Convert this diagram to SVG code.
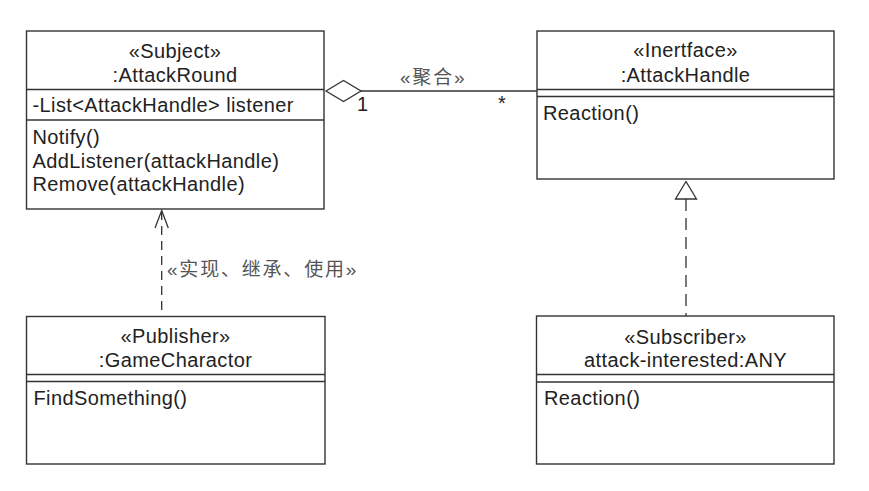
<svg xmlns="http://www.w3.org/2000/svg" width="869" height="491" viewBox="0 0 869 491">
<style>
.box{fill:#fff;stroke:#333;stroke-width:1.4}
.div{stroke:#333;stroke-width:1.3}
.t{font-family:"Liberation Sans",Arial,sans-serif;font-size:20px;fill:#222;letter-spacing:0.4px}
.c{text-anchor:middle}
.cn{font-family:"Liberation Sans","Noto Sans CJK SC",sans-serif;font-size:19px;fill:#555;letter-spacing:1.8px}
.ln{stroke:#333;stroke-width:1.3;fill:none}
</style>
<rect width="869" height="491" fill="#fff"/>
<g id="connectors">
  <line class="ln" x1="361" y1="91" x2="537" y2="91"/>
  <polygon points="326,91 343.5,80.5 361,91 343.5,101.5" fill="#fff" stroke="#333" stroke-width="1.3"/>
  <text class="cn" x="400" y="83.5">«聚合»</text>
  <text class="t" x="357" y="111" style="letter-spacing:0">1</text>
  <text class="t" x="502" y="110" text-anchor="middle" style="letter-spacing:0">*</text>
  <line class="ln" x1="161.7" y1="211" x2="161.7" y2="316.5" stroke-dasharray="9,6"/>
  <polyline class="ln" points="155,228 161.7,210.5 168.3,228"/>
  <text class="cn" x="167" y="275.5">«实现、继承、使用»</text>
  <line class="ln" x1="686" y1="199" x2="686" y2="316" stroke-dasharray="12,7"/>
  <polygon points="686,181.5 675.5,199 696.5,199" fill="#fff" stroke="#333" stroke-width="1.3"/>
</g>
<g id="attackRound">
  <rect class="box" x="26.5" y="31" width="297.5" height="178"/>
  <line class="div" x1="26.5" y1="89.5" x2="324" y2="89.5"/>
  <line class="div" x1="26.5" y1="120" x2="324" y2="120"/>
  <text class="t c" x="175" y="57.5">«Subject»</text>
  <text class="t c" x="175" y="81.5">:AttackRound</text>
  <text class="t" x="32.5" y="112">-List&lt;AttackHandle&gt; listener</text>
  <text class="t" x="32.5" y="144">Notify()</text>
  <text class="t" x="32.5" y="167.5">AddListener(attackHandle)</text>
  <text class="t" x="32.5" y="191">Remove(attackHandle)</text>
</g>
<g id="attackHandle">
  <rect class="box" x="537" y="31" width="297" height="148"/>
  <line class="div" x1="537" y1="89.5" x2="834" y2="89.5"/>
  <line class="div" x1="537" y1="96.5" x2="834" y2="96.5"/>
  <text class="t c" x="685.5" y="57">«Inertface»</text>
  <text class="t c" x="685.5" y="81.5">:AttackHandle</text>
  <text class="t" x="543" y="120">Reaction()</text>
</g>
<g id="gameCharactor">
  <rect class="box" x="26.5" y="316.5" width="298.5" height="147.5"/>
  <line class="div" x1="26.5" y1="374.5" x2="325" y2="374.5"/>
  <line class="div" x1="26.5" y1="381.5" x2="325" y2="381.5"/>
  <text class="t c" x="175.5" y="343">«Publisher»</text>
  <text class="t c" x="175.5" y="367">:GameCharactor</text>
  <text class="t" x="33.5" y="405">FindSomething()</text>
</g>
<g id="subscriber">
  <rect class="box" x="536.5" y="316" width="297.5" height="148"/>
  <line class="div" x1="536.5" y1="374.5" x2="834" y2="374.5"/>
  <line class="div" x1="536.5" y1="382" x2="834" y2="382"/>
  <text class="t c" x="685.5" y="343.5">«Subscriber»</text>
  <text class="t c" x="685.5" y="367">attack-interested:ANY</text>
  <text class="t" x="544" y="405">Reaction()</text>
</g>
</svg>
